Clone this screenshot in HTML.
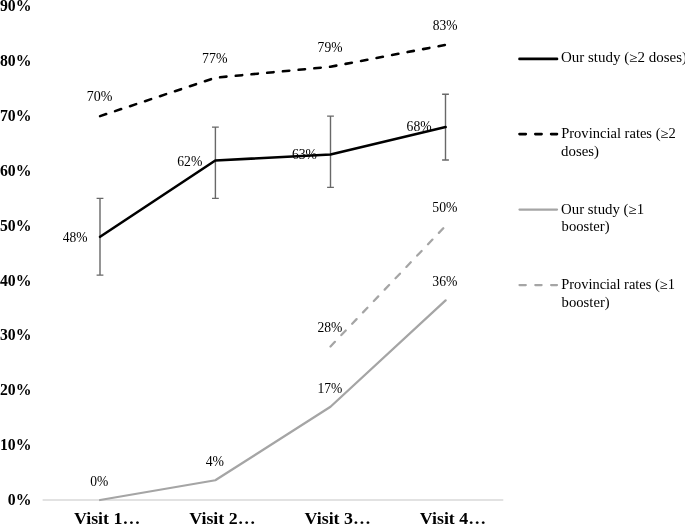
<!DOCTYPE html>
<html><head><meta charset="utf-8"><style>
html,body{margin:0;padding:0;background:#fff;}
body{width:685px;height:525px;overflow:hidden;}
svg{display:block;will-change:transform;}
text{font-family:"Liberation Serif", serif;}
</style></head><body>
<svg width="685" height="525" viewBox="0 0 685 525">
<line x1="42.6" y1="500.06" x2="503.3" y2="500.06" stroke="#d9d9d9" stroke-width="1.6"/>
<text transform="translate(7.87,505.11) scale(0.9267,1)" font-size="17.00" font-weight="bold" fill="#000">0%</text>
<text transform="translate(-0.01,450.21) scale(0.9267,1)" font-size="17.00" font-weight="bold" fill="#000">10%</text>
<text transform="translate(-0.01,395.31) scale(0.9267,1)" font-size="17.00" font-weight="bold" fill="#000">20%</text>
<text transform="translate(-0.01,340.41) scale(0.9267,1)" font-size="17.00" font-weight="bold" fill="#000">30%</text>
<text transform="translate(-0.01,285.51) scale(0.9267,1)" font-size="17.00" font-weight="bold" fill="#000">40%</text>
<text transform="translate(-0.01,230.61) scale(0.9267,1)" font-size="17.00" font-weight="bold" fill="#000">50%</text>
<text transform="translate(-0.01,175.71) scale(0.9267,1)" font-size="17.00" font-weight="bold" fill="#000">60%</text>
<text transform="translate(-0.01,120.81) scale(0.9267,1)" font-size="17.00" font-weight="bold" fill="#000">70%</text>
<text transform="translate(-0.01,65.91) scale(0.9267,1)" font-size="17.00" font-weight="bold" fill="#000">80%</text>
<text transform="translate(-0.01,11.01) scale(0.9267,1)" font-size="17.00" font-weight="bold" fill="#000">90%</text>
<text transform="translate(73.92,524.30) scale(1.0222,1)" font-size="17.50" font-weight="bold" fill="#000">Visit 1…</text>
<text transform="translate(189.19,524.30) scale(1.0222,1)" font-size="17.50" font-weight="bold" fill="#000">Visit 2…</text>
<text transform="translate(304.46,524.30) scale(1.0222,1)" font-size="17.50" font-weight="bold" fill="#000">Visit 3…</text>
<text transform="translate(419.73,524.30) scale(1.0222,1)" font-size="17.50" font-weight="bold" fill="#000">Visit 4…</text>
<path d="M100.00,198.38 V275.16 M96.60,198.38 H103.40 M96.60,275.16 H103.40" stroke="#686868" stroke-width="1.4" fill="none"/>
<path d="M215.40,127.09 V198.38 M212.00,127.09 H218.80 M212.00,198.38 H218.80" stroke="#686868" stroke-width="1.4" fill="none"/>
<path d="M330.50,116.12 V187.41 M327.10,116.12 H333.90 M327.10,187.41 H333.90" stroke="#686868" stroke-width="1.4" fill="none"/>
<path d="M445.50,94.18 V159.99 M442.10,94.18 H448.90 M442.10,159.99 H448.90" stroke="#686868" stroke-width="1.4" fill="none"/>
<path d="M100.10,500.00 L215.30,480.26 L330.50,406.77 L445.60,300.38" stroke="#a5a5a5" stroke-width="2.25" fill="none" stroke-linejoin="round" stroke-linecap="round"/>
<path d="M330.50,346.45 L445.60,225.80" stroke="#a5a5a5" stroke-width="2.25" fill="none" stroke-dasharray="6.4 9.3" stroke-linecap="round"/>
<path d="M100.10,116.12 L215.30,77.73 L330.50,66.76 L445.60,44.83" stroke="#000" stroke-width="2.6" fill="none" stroke-dasharray="6.4 9.38" stroke-linecap="round" stroke-linejoin="round"/>
<path d="M100.10,236.77 L215.30,160.54 L330.50,154.51 L445.60,127.09" stroke="#000" stroke-width="2.6" fill="none" stroke-linejoin="round" stroke-linecap="round"/>
<text transform="translate(86.79,101.45) scale(1.0004,1)" font-size="14.00" fill="#000">70%</text>
<text transform="translate(202.00,62.65) scale(0.9922,1)" font-size="14.00" fill="#000">77%</text>
<text transform="translate(317.62,51.90) scale(0.9675,1)" font-size="14.00" fill="#000">79%</text>
<text transform="translate(432.69,29.90) scale(0.9645,1)" font-size="14.00" fill="#000">83%</text>
<text transform="translate(62.63,241.75) scale(0.9671,1)" font-size="14.00" fill="#000">48%</text>
<text transform="translate(177.22,165.55) scale(0.9795,1)" font-size="14.00" fill="#000">62%</text>
<text transform="translate(291.92,159.15) scale(0.9795,1)" font-size="14.00" fill="#000">63%</text>
<text transform="translate(406.62,131.45) scale(0.9795,1)" font-size="14.00" fill="#000">68%</text>
<text transform="translate(90.29,485.75) scale(0.9675,1)" font-size="14.00" fill="#000">0%</text>
<text transform="translate(205.72,465.75) scale(0.9821,1)" font-size="14.00" fill="#000">4%</text>
<text transform="translate(317.57,392.65) scale(0.9693,1)" font-size="14.00" fill="#000">17%</text>
<text transform="translate(432.35,285.91) scale(0.9782,1)" font-size="14.00" fill="#000">36%</text>
<text transform="translate(317.39,331.85) scale(0.9727,1)" font-size="14.00" fill="#000">28%</text>
<text transform="translate(432.27,211.75) scale(0.9813,1)" font-size="14.00" fill="#000">50%</text>
<line x1="519.5" y1="58.9" x2="557.0" y2="58.9" stroke="#000" stroke-width="2.60" stroke-linecap="round"/>
<text transform="translate(561.00,62.40) scale(1.1028,1)" font-size="13.60" fill="#000">Our study (≥2 doses)</text>
<line x1="519.5" y1="134.1" x2="557.0" y2="134.1" stroke="#000" stroke-width="2.60" stroke-linecap="round" stroke-dasharray="6.3 9.5"/>
<text transform="translate(561.16,137.80) scale(1.0697,1)" font-size="13.60" fill="#000">Provincial rates (≥2</text>
<text transform="translate(561.08,155.70) scale(1.0922,1)" font-size="13.60" fill="#000">doses)</text>
<line x1="519.5" y1="209.5" x2="557.0" y2="209.5" stroke="#a5a5a5" stroke-width="2.25" stroke-linecap="round"/>
<text transform="translate(561.01,213.60) scale(1.0913,1)" font-size="13.60" fill="#000">Our study (≥1</text>
<text transform="translate(561.60,231.30) scale(1.0774,1)" font-size="13.60" fill="#000">booster)</text>
<line x1="519.5" y1="285.1" x2="557.0" y2="285.1" stroke="#a5a5a5" stroke-width="2.25" stroke-linecap="round" stroke-dasharray="6.3 9.5"/>
<text transform="translate(561.17,288.75) scale(1.0628,1)" font-size="13.60" fill="#000">Provincial rates (≥1</text>
<text transform="translate(561.60,306.80) scale(1.0796,1)" font-size="13.60" fill="#000">booster)</text>
</svg></body></html>
